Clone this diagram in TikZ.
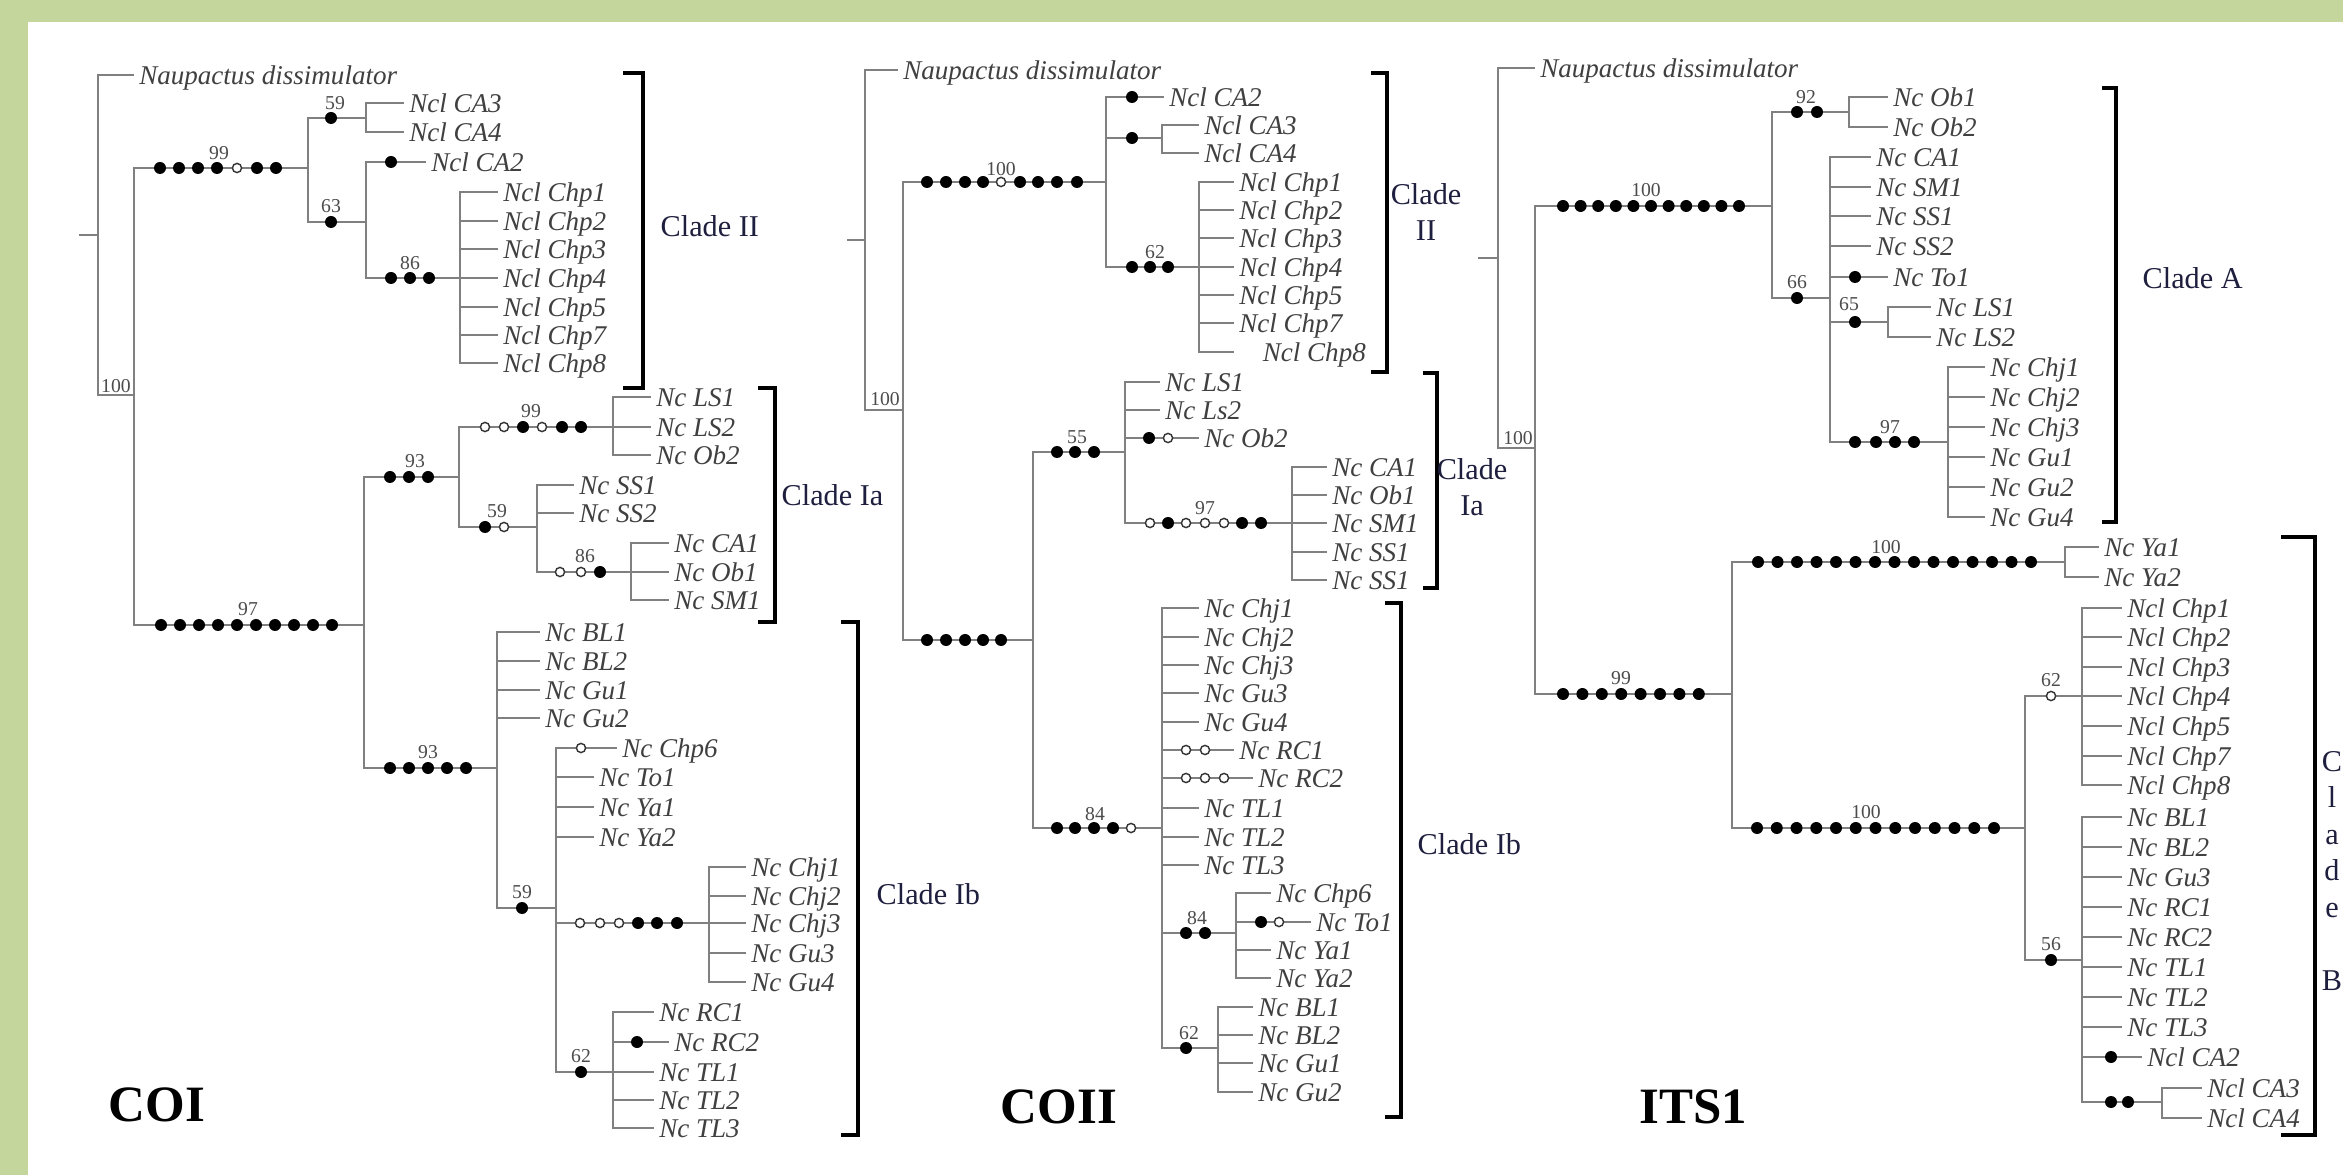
\documentclass[tikz,border=0pt]{standalone}
\usepackage{fontspec}
\setmainfont{Liberation Serif}
\definecolor{bggreen}{RGB}{196,214,156}
\definecolor{cladeblue}{RGB}{30,30,62}

% rows of filled / open character marks on a branch: {y}{x list}
\newcommand{\fsnps}[2]{\foreach \sx in {#2}{\fill[black] (\sx,#1) circle[radius=.6mm];}}
\newcommand{\osnps}[2]{\foreach \sx in {#2}{\filldraw[draw=black!80,fill=white,line width=.4pt] (\sx,#1) circle[radius=.46mm];}}

\tikzset{
  br/.style={draw=black!50,line width=.65pt},
  brack/.style={draw=black,line width=.9pt},
  leaf/.style={anchor=west,inner xsep=1.3pt,inner ysep=0pt,text height=6.2pt,text depth=1pt,
    font=\fontsize{7.7}{9}\selectfont\itshape,text=black!75},
  boot/.style={inner sep=0pt,font=\fontsize{5.6}{6}\selectfont,text=black!70},
  clade/.style={inner sep=0pt,font=\fontsize{8.6}{10.4}\selectfont,text=cladeblue,align=center},
  title/.style={font=\fontsize{14.5}{16}\selectfont\bfseries}
}

\begin{document}
\begin{tikzpicture}[x=0.1mm,y=-0.1mm]
  \useasboundingbox (0,0) rectangle (2343,1175);
  \fill[bggreen] (0,0) rectangle (2343,1175);
  \fill[white] (28,22) rectangle (2343,1175);

  % ---------------- COI ----------------
  \coordinate (aR) at (79,235);
  \coordinate (aroot) at (98,235);
  \coordinate (a0) at (134,395);
  \coordinate (a1) at (308,168);
  \coordinate (a2) at (364,625);
  \coordinate (a3) at (366,118);
  \coordinate (a4) at (366,222);
  \coordinate (a5) at (460,278);
  \coordinate (a6) at (459,477);
  \coordinate (a7) at (613,427);
  \coordinate (a8) at (537,527);
  \coordinate (a9) at (631,572);
  \coordinate (a10) at (497,768);
  \coordinate (a11) at (556,908);
  \coordinate (a12) at (709,923);
  \coordinate (a13) at (613,1072);

  \node[leaf] (aNd) at (134,75) {Naupactus dissimulator};
  \node[leaf] (aCA3) at (404,103) {Ncl CA3};
  \node[leaf] (aCA4) at (404,132) {Ncl CA4};
  \node[leaf] (aCA2) at (426,162) {Ncl CA2};
  \foreach \n/\y in {1/192,2/221,3/249,4/278,5/307,7/335,8/363}
    \node[leaf] (aChp\n) at (498,\y) {Ncl Chp\n};
  \node[leaf] (aLS1) at (651,397) {Nc LS1};
  \node[leaf] (aLS2) at (651,427) {Nc LS2};
  \node[leaf] (aOb2) at (651,455) {Nc Ob2};
  \node[leaf] (aSS1) at (574,485) {Nc SS1};
  \node[leaf] (aSS2) at (574,513) {Nc SS2};
  \node[leaf] (aCA1) at (669,543) {Nc CA1};
  \node[leaf] (aOb1) at (669,572) {Nc Ob1};
  \node[leaf] (aSM1) at (669,600) {Nc SM1};
  \node[leaf] (aBL1) at (540,632) {Nc BL1};
  \node[leaf] (aBL2) at (540,661) {Nc BL2};
  \node[leaf] (aGu1) at (540,690) {Nc Gu1};
  \node[leaf] (aGu2) at (540,718) {Nc Gu2};
  \node[leaf] (aChp6) at (617,748) {Nc Chp6};
  \node[leaf] (aTo1) at (594,777) {Nc To1};
  \node[leaf] (aYa1) at (594,807) {Nc Ya1};
  \node[leaf] (aYa2) at (594,837) {Nc Ya2};
  \node[leaf] (aChj1) at (746,867) {Nc Chj1};
  \node[leaf] (aChj2) at (746,896) {Nc Chj2};
  \node[leaf] (aChj3) at (746,923) {Nc Chj3};
  \node[leaf] (aGu3) at (746,953) {Nc Gu3};
  \node[leaf] (aGu4) at (746,982) {Nc Gu4};
  \node[leaf] (aRC1) at (654,1012) {Nc RC1};
  \node[leaf] (aRC2) at (669,1042) {Nc RC2};
  \node[leaf] (aTL1) at (654,1072) {Nc TL1};
  \node[leaf] (aTL2) at (654,1100) {Nc TL2};
  \node[leaf] (aTL3) at (654,1128) {Nc TL3};

  \draw[br] (aR) -- (aroot);
  \draw[br] (aroot) |- (aNd.west);
  \draw[br] (aroot) |- (a0);
  \foreach \c in {a1,a2} \draw[br] (a0) |- (\c);
  \foreach \c in {a3,a4} \draw[br] (a1) |- (\c);
  \foreach \c in {aCA3,aCA4} \draw[br] (a3) |- (\c.west);
  \draw[br] (a4) |- (aCA2.west);
  \draw[br] (a4) |- (a5);
  \foreach \n in {1,2,3,4,5,7,8} \draw[br] (a5) |- (aChp\n.west);
  \foreach \c in {a6,a10} \draw[br] (a2) |- (\c);
  \foreach \c in {a7,a8} \draw[br] (a6) |- (\c);
  \foreach \c in {aLS1,aLS2,aOb2} \draw[br] (a7) |- (\c.west);
  \foreach \c in {aSS1,aSS2} \draw[br] (a8) |- (\c.west);
  \draw[br] (a8) |- (a9);
  \foreach \c in {aCA1,aOb1,aSM1} \draw[br] (a9) |- (\c.west);
  \foreach \c in {aBL1,aBL2,aGu1,aGu2} \draw[br] (a10) |- (\c.west);
  \draw[br] (a10) |- (a11);
  \foreach \c in {aChp6,aTo1,aYa1,aYa2} \draw[br] (a11) |- (\c.west);
  \foreach \c in {a12,a13} \draw[br] (a11) |- (\c);
  \foreach \c in {aChj1,aChj2,aChj3,aGu3,aGu4} \draw[br] (a12) |- (\c.west);
  \foreach \c in {aRC1,aRC2,aTL1,aTL2,aTL3} \draw[br] (a13) |- (\c.west);

  \fsnps{168}{160,179,198,217,257,276}\osnps{168}{237}
  \fsnps{118}{331}\fsnps{222}{331}\fsnps{162}{391}
  \fsnps{278}{391,410,429}
  \fsnps{625}{161,180,...,333}
  \fsnps{477}{390,409,428}
  \osnps{427}{485,504,542}\fsnps{427}{523,562,581}
  \fsnps{527}{485}\osnps{527}{504}
  \osnps{572}{560,581}\fsnps{572}{600}
  \fsnps{768}{390,409,428,447,466}
  \fsnps{908}{522}\osnps{748}{581}
  \osnps{923}{580,600,619}\fsnps{923}{638,657,677}
  \fsnps{1072}{581}\fsnps{1042}{637}

  \node[boot] (a0bs) at (116,386) {100};
  \node[boot] (a1bs) at (219,153) {99};
  \node[boot] (a3bs) at (335,103) {59};
  \node[boot] (a4bs) at (331,206) {63};
  \node[boot] (a5bs) at (410,263) {86};
  \node[boot] (a2bs) at (248,609) {97};
  \node[boot] (a6bs) at (415,461) {93};
  \node[boot] (a7bs) at (531,411) {99};
  \node[boot] (a8bs) at (497,511) {59};
  \node[boot] (a9bs) at (585,556) {86};
  \node[boot] (a10bs) at (428,752) {93};
  \node[boot] (a11bs) at (522,892) {59};
  \node[boot] (a13bs) at (581,1056) {62};

  \coordinate (aIIt) at (643,73);  \coordinate (aIIb) at (643,388);
  \coordinate (aIat) at (775,388); \coordinate (aIab) at (775,622);
  \coordinate (aIbt) at (858,622); \coordinate (aIbb) at (858,1135);
  \draw[brack] ([xshift=-2mm]aIIt) -- (aIIt) -- (aIIb) -- ([xshift=-2mm]aIIb);
  \draw[brack] ([xshift=-1.7mm]aIat) -- (aIat) -- (aIab) -- ([xshift=-1.7mm]aIab);
  \draw[brack] ([xshift=-1.7mm]aIbt) -- (aIbt) -- (aIbb) -- ([xshift=-1.7mm]aIbb);
  \node[clade,anchor=west] (aIIl) at (660,226) {Clade II};
  \node[clade,anchor=west] (aIal) at (781,495) {Clade Ia};
  \node[clade,anchor=west] (aIbl) at (876,894) {Clade Ib};
  \node[title] (aT) at (157,1105) {COI};

  % ---------------- COII ----------------
  \coordinate (bR) at (847,240);
  \coordinate (broot) at (865,240);
  \coordinate (b0) at (903,410);
  \coordinate (b1) at (1106,182);
  \coordinate (b2) at (1162,138);
  \coordinate (b3) at (1199,267);
  \coordinate (b4) at (1033,640);
  \coordinate (b5) at (1125,452);
  \coordinate (b6) at (1292,523);
  \coordinate (b7) at (1162,828);
  \coordinate (b8) at (1236,933);
  \coordinate (b9) at (1218,1048);

  \node[leaf] (bNd) at (898,70) {Naupactus dissimulator};
  \node[leaf] (bCA2) at (1164,97) {Ncl CA2};
  \node[leaf] (bCA3) at (1199,125) {Ncl CA3};
  \node[leaf] (bCA4) at (1199,153) {Ncl CA4};
  \foreach \n/\y in {1/182,2/210,3/238,4/267,5/295,7/323}
    \node[leaf] (bChp\n) at (1234,\y) {Ncl Chp\n};
  \node[leaf,inner xsep=8pt] (bChp8) at (1234,352) {Ncl Chp8};
  \node[leaf] (bLS1) at (1160,382) {Nc LS1};
  \node[leaf] (bLs2) at (1160,410) {Nc Ls2};
  \node[leaf] (bOb2) at (1199,438) {Nc Ob2};
  \node[leaf] (bCA1) at (1327,467) {Nc CA1};
  \node[leaf] (bOb1) at (1327,495) {Nc Ob1};
  \node[leaf] (bSM1) at (1327,523) {Nc SM1};
  \node[leaf] (bSS1) at (1327,552) {Nc SS1};
  \node[leaf] (bSS1b) at (1327,580) {Nc SS1};
  \node[leaf] (bChj1) at (1199,608) {Nc Chj1};
  \node[leaf] (bChj2) at (1199,637) {Nc Chj2};
  \node[leaf] (bChj3) at (1199,665) {Nc Chj3};
  \node[leaf] (bGu3) at (1199,693) {Nc Gu3};
  \node[leaf] (bGu4) at (1199,722) {Nc Gu4};
  \node[leaf] (bRC1) at (1234,750) {Nc RC1};
  \node[leaf] (bRC2) at (1253,778) {Nc RC2};
  \node[leaf] (bTL1) at (1199,808) {Nc TL1};
  \node[leaf] (bTL2) at (1199,837) {Nc TL2};
  \node[leaf] (bTL3) at (1199,865) {Nc TL3};
  \node[leaf] (bChp6) at (1271,893) {Nc Chp6};
  \node[leaf] (bTo1) at (1311,922) {Nc To1};
  \node[leaf] (bYa1) at (1271,950) {Nc Ya1};
  \node[leaf] (bYa2) at (1271,978) {Nc Ya2};
  \node[leaf] (bBL1) at (1253,1007) {Nc BL1};
  \node[leaf] (bBL2) at (1253,1035) {Nc BL2};
  \node[leaf] (bGu1) at (1253,1063) {Nc Gu1};
  \node[leaf] (bGu2) at (1253,1092) {Nc Gu2};

  \draw[br] (bR) -- (broot);
  \draw[br] (broot) |- (bNd.west);
  \draw[br] (broot) |- (b0);
  \foreach \c in {b1,b4} \draw[br] (b0) |- (\c);
  \draw[br] (b1) |- (bCA2.west);
  \foreach \c in {b2,b3} \draw[br] (b1) |- (\c);
  \foreach \c in {bCA3,bCA4} \draw[br] (b2) |- (\c.west);
  \foreach \n in {1,2,3,4,5,7,8} \draw[br] (b3) |- (bChp\n.west);
  \foreach \c in {b5,b7} \draw[br] (b4) |- (\c);
  \foreach \c in {bLS1,bLs2,bOb2} \draw[br] (b5) |- (\c.west);
  \draw[br] (b5) |- (b6);
  \foreach \c in {bCA1,bOb1,bSM1,bSS1,bSS1b} \draw[br] (b6) |- (\c.west);
  \foreach \c in {bChj1,bChj2,bChj3,bGu3,bGu4,bRC1,bRC2,bTL1,bTL2,bTL3} \draw[br] (b7) |- (\c.west);
  \foreach \c in {b8,b9} \draw[br] (b7) |- (\c);
  \foreach \c in {bChp6,bTo1,bYa1,bYa2} \draw[br] (b8) |- (\c.west);
  \foreach \c in {bBL1,bBL2,bGu1,bGu2} \draw[br] (b9) |- (\c.west);

  \fsnps{182}{927,946,965,983,1020,1038,1057,1077}\osnps{182}{1001}
  \fsnps{97}{1132}\fsnps{138}{1132}
  \fsnps{267}{1132,1150,1168}
  \fsnps{640}{927,946,965,983,1001}
  \fsnps{452}{1057,1075,1094}
  \fsnps{438}{1149}\osnps{438}{1168}
  \osnps{523}{1150,1186,1205,1224}\fsnps{523}{1168,1242,1261}
  \fsnps{828}{1057,1075,1094,1113}\osnps{828}{1131}
  \osnps{750}{1186,1205}\osnps{778}{1186,1205,1224}
  \fsnps{933}{1186,1205}
  \fsnps{922}{1261}\osnps{922}{1279}
  \fsnps{1048}{1186}

  \node[boot] (b0bs) at (885,399) {100};
  \node[boot] (b1bs) at (1001,169) {100};
  \node[boot] (b3bs) at (1155,252) {62};
  \node[boot] (b5bs) at (1077,437) {55};
  \node[boot] (b6bs) at (1205,508) {97};
  \node[boot] (b7bs) at (1095,814) {84};
  \node[boot] (b8bs) at (1197,918) {84};
  \node[boot] (b9bs) at (1189,1033) {62};

  \coordinate (bIIt) at (1387,73);  \coordinate (bIIb) at (1387,372);
  \coordinate (bIat) at (1437,373); \coordinate (bIab) at (1437,588);
  \coordinate (bIbt) at (1401,603); \coordinate (bIbb) at (1401,1117);
  \draw[brack] ([xshift=-1.6mm]bIIt) -- (bIIt) -- (bIIb) -- ([xshift=-1.6mm]bIIb);
  \draw[brack] ([xshift=-1.4mm]bIat) -- (bIat) -- (bIab) -- ([xshift=-1.4mm]bIab);
  \draw[brack] ([xshift=-1.6mm]bIbt) -- (bIbt) -- (bIbb) -- ([xshift=-1.6mm]bIbb);
  \node[clade] (bIIl) at (1426,212) {Clade\\II};
  \node[clade] (bIal) at (1472,487) {Clade\\Ia};
  \node[clade,anchor=west] (bIbl) at (1417,844) {Clade Ib};
  \node[title] (bT) at (1059,1107) {COII};

  % ---------------- ITS1 ----------------
  \coordinate (cR) at (1478,258);
  \coordinate (croot) at (1498,258);
  \coordinate (c0) at (1535,448);
  \coordinate (c1) at (1772,206);
  \coordinate (c2) at (1849,112);
  \coordinate (c3) at (1830,298);
  \coordinate (c4) at (1888,322);
  \coordinate (c5) at (1948,442);
  \coordinate (c6) at (1732,694);
  \coordinate (c7) at (2065,562);
  \coordinate (c8) at (2025,828);
  \coordinate (c9) at (2082,696);
  \coordinate (c10) at (2082,960);
  \coordinate (c11) at (2162,1102);

  \node[leaf] (cNd) at (1535,68) {Naupactus dissimulator};
  \node[leaf] (cOb1) at (1888,97) {Nc Ob1};
  \node[leaf] (cOb2) at (1888,127) {Nc Ob2};
  \node[leaf] (cCA1) at (1871,157) {Nc CA1};
  \node[leaf] (cSM1) at (1871,187) {Nc SM1};
  \node[leaf] (cSS1) at (1871,216) {Nc SS1};
  \node[leaf] (cSS2) at (1871,246) {Nc SS2};
  \node[leaf] (cTo1) at (1888,277) {Nc To1};
  \node[leaf] (cLS1) at (1931,307) {Nc LS1};
  \node[leaf] (cLS2) at (1931,337) {Nc LS2};
  \node[leaf] (cChj1) at (1985,367) {Nc Chj1};
  \node[leaf] (cChj2) at (1985,397) {Nc Chj2};
  \node[leaf] (cChj3) at (1985,427) {Nc Chj3};
  \node[leaf] (cGu1) at (1985,457) {Nc Gu1};
  \node[leaf] (cGu2) at (1985,487) {Nc Gu2};
  \node[leaf] (cGu4) at (1985,517) {Nc Gu4};
  \node[leaf] (cYa1) at (2099,547) {Nc Ya1};
  \node[leaf] (cYa2) at (2099,577) {Nc Ya2};
  \foreach \n/\y in {1/608,2/637,3/667,4/696,5/726,7/756,8/785}
    \node[leaf] (cChp\n) at (2122,\y) {Ncl Chp\n};
  \node[leaf] (cBL1) at (2122,817) {Nc BL1};
  \node[leaf] (cBL2) at (2122,847) {Nc BL2};
  \node[leaf] (cGu3) at (2122,877) {Nc Gu3};
  \node[leaf] (cRC1) at (2122,907) {Nc RC1};
  \node[leaf] (cRC2) at (2122,937) {Nc RC2};
  \node[leaf] (cTL1) at (2122,967) {Nc TL1};
  \node[leaf] (cTL2) at (2122,997) {Nc TL2};
  \node[leaf] (cTL3) at (2122,1027) {Nc TL3};
  \node[leaf] (cCA2) at (2142,1057) {Ncl CA2};
  \node[leaf] (cCA3) at (2202,1088) {Ncl CA3};
  \node[leaf] (cCA4) at (2202,1118) {Ncl CA4};

  \draw[br] (cR) -- (croot);
  \draw[br] (croot) |- (cNd.west);
  \draw[br] (croot) |- (c0);
  \foreach \c in {c1,c6} \draw[br] (c0) |- (\c);
  \foreach \c in {c2,c3} \draw[br] (c1) |- (\c);
  \foreach \c in {cOb1,cOb2} \draw[br] (c2) |- (\c.west);
  \foreach \c in {cCA1,cSM1,cSS1,cSS2,cTo1} \draw[br] (c3) |- (\c.west);
  \foreach \c in {c4,c5} \draw[br] (c3) |- (\c);
  \foreach \c in {cLS1,cLS2} \draw[br] (c4) |- (\c.west);
  \foreach \c in {cChj1,cChj2,cChj3,cGu1,cGu2,cGu4} \draw[br] (c5) |- (\c.west);
  \foreach \c in {c7,c8} \draw[br] (c6) |- (\c);
  \foreach \c in {cYa1,cYa2} \draw[br] (c7) |- (\c.west);
  \foreach \c in {c9,c10} \draw[br] (c8) |- (\c);
  \foreach \n in {1,2,3,4,5,7,8} \draw[br] (c9) |- (cChp\n.west);
  \foreach \c in {cBL1,cBL2,cGu3,cRC1,cRC2,cTL1,cTL2,cTL3,cCA2} \draw[br] (c10) |- (\c.west);
  \draw[br] (c10) |- (c11);
  \foreach \c in {cCA3,cCA4} \draw[br] (c11) |- (\c.west);

  \fsnps{206}{1563,1580.6,...,1740}
  \fsnps{112}{1797,1817}
  \fsnps{298}{1797}\fsnps{277}{1855}\fsnps{322}{1855}
  \fsnps{442}{1855,1876,1895,1914}
  \fsnps{694}{1563,1582.4,...,1700}
  \fsnps{562}{1758,1777.5,...,2032}
  \fsnps{828}{1757,1776.75,...,1995}
  \osnps{696}{2051}\fsnps{960}{2051}
  \fsnps{1057}{2111}\fsnps{1102}{2111,2128}

  \node[boot] (c0bs) at (1518,438) {100};
  \node[boot] (c1bs) at (1646,190) {100};
  \node[boot] (c2bs) at (1806,97) {92};
  \node[boot] (c3bs) at (1797,282) {66};
  \node[boot] (c4bs) at (1849,304) {65};
  \node[boot] (c5bs) at (1890,427) {97};
  \node[boot] (c6bs) at (1621,678) {99};
  \node[boot] (c7bs) at (1886,547) {100};
  \node[boot] (c8bs) at (1866,812) {100};
  \node[boot] (c9bs) at (2051,680) {62};
  \node[boot] (c10bs) at (2051,944) {56};

  \coordinate (cAt) at (2116,88);  \coordinate (cAb) at (2116,522);
  \coordinate (cBt) at (2315,537); \coordinate (cBb) at (2315,1135);
  \draw[brack] ([xshift=-1.4mm]cAt) -- (cAt) -- (cAb) -- ([xshift=-1.4mm]cAb);
  \draw[brack] ([xshift=-3.4mm]cBt) -- (cBt) -- (cBb) -- ([xshift=-3.4mm]cBb);
  \node[clade,anchor=west] (cAl) at (2142,278) {Clade A};
  \node[clade] (cBl) at (2332,871) {C\\l\\a\\d\\e\\[10.4pt]B};
  \node[title] (cT) at (1693,1107) {ITS1};
\end{tikzpicture}
\end{document}
